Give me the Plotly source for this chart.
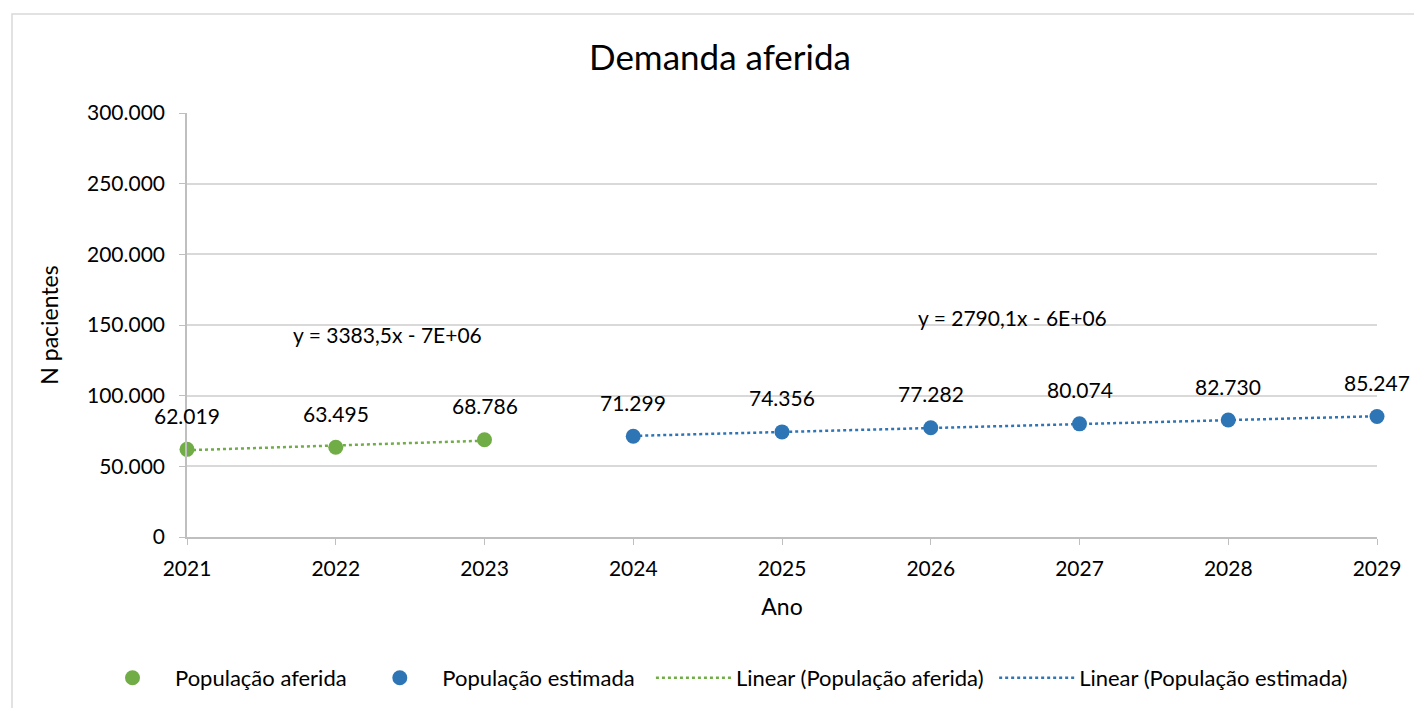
import numpy as np
import plotly.graph_objects as go

anos_aferidos = [2021, 2022, 2023]
pop_aferida = [62019, 63495, 68786]
anos_estimados = [2024, 2025, 2026, 2027, 2028, 2029]
pop_estimada = [71299, 74356, 77282, 80074, 82730, 85247]
eq_aferida = "y = 3383,5x - 7E+06"
eq_estimada = "y = 2790,1x - 6E+06"
y_ticks = [0, 50000, 100000, 150000, 200000, 250000, 300000]

GREEN = "#70ad47"
BLUE = "#2e75b6"
FONT = "Lato"
NB = "\u00a0"

def fit(xs, ys):
    a, b = np.polyfit(xs, ys, 1)
    return [a * x + b for x in xs]

def fmt(v):
    return f"{v:,}".replace(",", ".")

fig = go.Figure()
fig.add_trace(go.Scatter(
    x=anos_aferidos, y=fit(anos_aferidos, pop_aferida), mode="lines",
    name="Linear (População aferida)" + NB, line=dict(color=GREEN, width=2.5, dash="dot"),
    legendrank=3, cliponaxis=False))
fig.add_trace(go.Scatter(
    x=anos_estimados, y=fit(anos_estimados, pop_estimada), mode="lines",
    name="Linear (População estimada)", line=dict(color=BLUE, width=2.5, dash="dot"),
    legendrank=4, cliponaxis=False))
fig.add_trace(go.Scatter(
    x=anos_aferidos, y=pop_aferida, mode="markers", name="População aferida" + NB,
    marker=dict(color=GREEN, size=15), legendrank=1, cliponaxis=False))
fig.add_trace(go.Scatter(
    x=anos_estimados, y=pop_estimada, mode="markers", name="População estimada" + NB * 2,
    marker=dict(color=BLUE, size=15), legendrank=2, cliponaxis=False))

for xs, ys in ((anos_aferidos, pop_aferida), (anos_estimados, pop_estimada)):
    for xv, yv in zip(xs, ys):
        fig.add_annotation(x=xv, y=yv, text=fmt(yv), showarrow=False,
                           yanchor="middle", yshift=34,
                           font=dict(size=21, color="#000", family=FONT))

fig.add_annotation(x=2022.35, y=143000, text=eq_aferida, showarrow=False,
                   font=dict(size=21, color="#000", family=FONT))
fig.add_annotation(x=2026.55, y=155000, text=eq_estimada, showarrow=False,
                   font=dict(size=21, color="#000", family=FONT))

OFF = 8  # page body offset
L, T = 187 - OFF, 113 - OFF
R = 1422 - (1377 - OFF)
B = 708 - (537 - OFF)
pw = 1422 - L - R
ph = 708 - T - B
fig.add_shape(type="rect", xref="paper", yref="paper",
              x0=(12 - OFF - L) / pw, x1=(1430 - OFF - L) / pw,
              y0=-(720 - 537) / ph, y1=(537 - 14) / ph,
              line=dict(color="#d9d9d9", width=1.5), fillcolor="rgba(0,0,0,0)", layer="below")

fig.update_layout(
    width=1422, height=708,
    margin=dict(l=L, r=R, t=T, b=B),
    paper_bgcolor="white", plot_bgcolor="white",
    font=dict(family=FONT, size=21, color="#000"),
    separators=",.",
    title=dict(text="Demanda aferida", x=(720 - OFF) / 1422, xanchor="center",
               y=1 - (58 - OFF) / 708, yanchor="middle", font=dict(size=35, color="#000")),
    xaxis=dict(range=[2021, 2029], tickmode="array",
               tickvals=anos_aferidos + anos_estimados,
               ticktext=[str(a) for a in anos_aferidos + anos_estimados],
               showgrid=False, zeroline=False, showline=True, linecolor="#bfbfbf",
               linewidth=1.5, ticks="outside", ticklen=6, tickcolor="#bfbfbf",
               tickfont=dict(size=21), ticklabelstandoff=6,
               title=dict(text="Ano", font=dict(size=23), standoff=20)),
    yaxis=dict(range=[0, 300000], tickmode="array", tickvals=y_ticks,
               ticktext=[fmt(v) for v in y_ticks],
               showgrid=True, gridcolor="#d9d9d9", gridwidth=1.5,
               zeroline=False, showline=True, linecolor="#bfbfbf", linewidth=1.5,
               ticks="outside", ticklen=6, tickcolor="#bfbfbf",
               tickfont=dict(size=21), ticklabelstandoff=10,
               title=dict(text="N pacientes", font=dict(size=23), standoff=22)),
    legend=dict(orientation="h", xref="paper", x=(82 - L) / pw, xanchor="left",
                yref="paper", y=-((678 - OFF) - (537 - OFF)) / ph, yanchor="middle",
                font=dict(size=22), itemwidth=75, traceorder="normal"),
    showlegend=True,
)
fig.write_html("out.html")
